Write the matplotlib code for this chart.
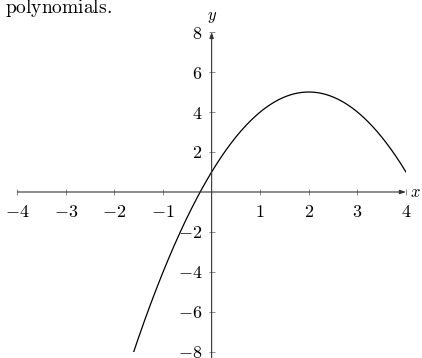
import matplotlib
matplotlib.use("Agg")
import matplotlib.pyplot as plt
import numpy as np

plt.rcParams["mathtext.fontset"] = "cm"
plt.rcParams["font.family"] = "serif"
plt.rcParams["font.serif"] = ["cmr10", "DejaVu Serif"]
plt.rcParams["axes.formatter.use_mathtext"] = True

# y = -x^2 + 4x + 1
coeffs = [-1, 4, 1]
x_ticks = [-4, -3, -2, -1, 1, 2, 3, 4]
y_ticks = [-8, -6, -4, -2, 2, 4, 6, 8]
x_labels = [f"${v}$" if v >= 0 else f"$-{-v}$" for v in x_ticks]
y_labels = [f"${v}$" if v >= 0 else f"$-{-v}$" for v in y_ticks]

fig = plt.figure(figsize=(4.22, 3.58), dpi=100)
ax = fig.add_axes([0.041, 0.0168, 0.921, 0.8938])

xs = np.linspace(-4, 4, 400)
ax.plot(xs, np.polyval(coeffs, xs), color="black", lw=0.9, zorder=3)

ax.set_xlim(-4, 4)
ax.set_ylim(-8, 8)

for side in ["top", "right"]:
   ax.spines[side].set_visible(False)
for side in ["left", "bottom"]:
   ax.spines[side].set_position("zero")
   ax.spines[side].set_visible(False)

# axes with arrows
axis_col = "#333333"
ax.annotate("", xy=(4.0, 0), xytext=(-4, 0),
            arrowprops=dict(arrowstyle="-|>,head_length=0.35,head_width=0.12", color=axis_col, lw=0.8,
                            shrinkA=0, shrinkB=0), annotation_clip=False)
ax.annotate("", xy=(0, 8.0), xytext=(0, -8.3),
            arrowprops=dict(arrowstyle="-|>,head_length=0.35,head_width=0.12", color=axis_col, lw=0.8,
                            shrinkA=0, shrinkB=0), annotation_clip=False)

ax.set_xticks(x_ticks)
ax.set_xticklabels(x_labels)
ax.set_yticks(y_ticks)
ax.set_yticklabels(y_labels)
ax.tick_params(axis="both", direction="inout", length=5, width=0.6, color="#777777",
               labelsize=13, pad=4)
ax.tick_params(axis="x", pad=6)

ax.text(4.08, 0, "$x$", fontsize=12, ha="left", va="center")
ax.text(0, 8.35, "$y$", fontsize=12, ha="center", va="bottom")

fig.text(0.012, 1 - 13 / 358, r"$\mathrm{polynomials.}$", fontsize=14, ha="left", va="baseline")

fig.savefig("out.png", dpi=100)
